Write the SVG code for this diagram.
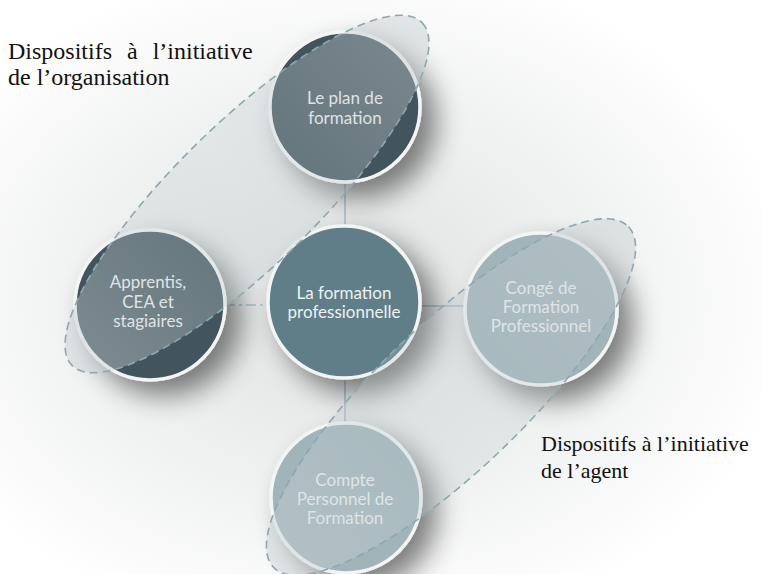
<svg xmlns="http://www.w3.org/2000/svg" width="762" height="574" viewBox="0 0 762 574">
<defs>
<style>
.node{stroke:#f3f5f5;stroke-width:3.5;filter:url(#sh)}
.dark{fill:#42545b}
.mid{fill:#5f7e88}
.light{fill:#a1b4ba}
.nt{font-family:Lato,"Open Sans",sans-serif;font-size:17px;fill:#eef2f3;text-anchor:middle}
.lbl{font-family:"Liberation Serif","Times New Roman",serif;font-size:24px;fill:#111}
.lbl2{font-family:"Liberation Serif","Times New Roman",serif;font-size:22px;fill:#111}
.conn{stroke:#a9c1c8;stroke-width:1.6;fill:none}
.grp{stroke:#8ea8b0;stroke-width:1.6;stroke-dasharray:8 5;fill:url(#eg)}
</style>
<filter id="sh" x="-50%" y="-50%" width="200%" height="200%">
<feGaussianBlur in="SourceAlpha" stdDeviation="14"/>
<feOffset dx="14" dy="14" result="b"/>
<feComponentTransfer><feFuncA type="linear" slope="0.5"/></feComponentTransfer>
<feMerge><feMergeNode/><feMergeNode in="SourceGraphic"/></feMerge>
</filter>
<linearGradient id="eg" x1="0" y1="0" x2="1" y2="0">
<stop offset="0" stop-color="#c6d0d3" stop-opacity="0.45"/>
<stop offset="0.5" stop-color="#b9c7cb" stop-opacity="0.25"/>
<stop offset="1" stop-color="#c2cbce" stop-opacity="0.45"/>
</linearGradient>
<radialGradient id="bg" cx="0.45" cy="0.52" r="0.6">
<stop offset="0" stop-color="#dfe2e2"/>
<stop offset="0.6" stop-color="#f1f2f2"/>
<stop offset="1" stop-color="#ffffff"/>
</radialGradient>
</defs>
<rect width="762" height="574" fill="url(#bg)"/>
<g id="connectors">
<line class="conn" x1="345" y1="182" x2="345" y2="227"/>
<line class="conn" x1="225" y1="305" x2="268" y2="305" stroke-dasharray="10 4 3 4"/>
<line class="conn" x1="420" y1="306" x2="466" y2="306"/>
<line class="conn" x1="345" y1="378" x2="345" y2="423"/>
</g>
<g id="node-plan">
<circle class="node dark" cx="345" cy="107" r="75"/>
<text class="nt" x="345" y="104">Le plan de</text>
<text class="nt" x="345" y="124">formation</text>
</g>
<g id="node-apprentis">
<circle class="node dark" cx="150" cy="305" r="75"/>
<text class="nt" x="148" y="288">Apprentis,</text>
<text class="nt" x="148" y="308">CEA et</text>
<text class="nt" x="148" y="327">stagiaires</text>
</g>
<g id="node-centre">
<circle class="node mid" cx="344" cy="302" r="76"/>
<text class="nt" x="344" y="299">La formation</text>
<text class="nt" x="344" y="318">professionnelle</text>
</g>
<g id="node-conge">
<circle class="node light" cx="541" cy="309" r="76"/>
<text class="nt" x="541" y="294">Congé de</text>
<text class="nt" x="541" y="313">Formation</text>
<text class="nt" x="541" y="332">Professionnel</text>
</g>
<g id="node-compte">
<circle class="node light" cx="346" cy="498" r="75"/>
<text class="nt" x="345" y="486">Compte</text>
<text class="nt" x="345" y="505">Personnel de</text>
<text class="nt" x="345" y="524">Formation</text>
</g>
<g id="group-organisation">
<ellipse class="grp" cx="0" cy="0" rx="245" ry="71" transform="translate(247 194) rotate(-44.4)"/>
<text class="lbl" x="8" y="59" word-spacing="9">Dispositifs à l’initiative</text>
<text class="lbl" x="8" y="85">de l’organisation</text>
</g>
<g id="group-agent">
<ellipse class="grp" cx="0" cy="0" rx="246" ry="73" transform="translate(451 397) rotate(-43.8)"/>
<text class="lbl2" x="541" y="451">Dispositifs à l’initiative</text>
<text class="lbl2" x="541" y="478">de l’agent</text>
</g>
</svg>
